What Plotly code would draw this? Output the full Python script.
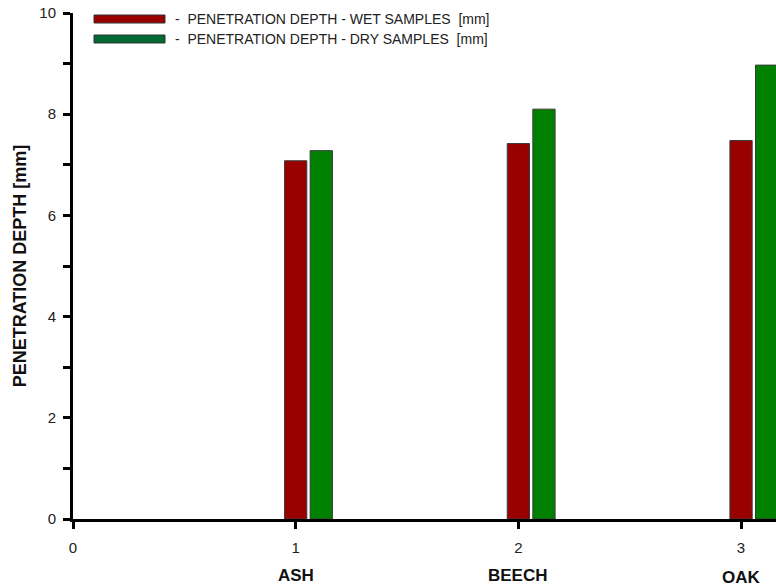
import plotly.graph_objects as go

species = ["ASH", "BEECH", "OAK"]
positions = [1, 2, 3]
wet_depth = [7.08, 7.42, 7.48]
dry_depth = [7.28, 8.10, 8.97]
wet_label = "-  PENETRATION DEPTH - WET SAMPLES  [mm]"
dry_label = "-  PENETRATION DEPTH - DRY SAMPLES  [mm]"

WET = "#990000"
DRY = "#008000"
FONT = "Liberation Sans, Arial, sans-serif"

W, H = 776, 588
L, T, B = 73, 13, 69
PW, PH = W - L, H - T - B


def px_x(px):
    return (px - L) / PW


def px_y(py):
    return 1 - (py - T) / PH


fig = go.Figure()
fig.add_trace(go.Bar(x=positions, y=wet_depth, width=0.1, offset=-0.05,
                     marker=dict(color=WET, line=dict(color="#3a3a3a", width=1)),
                     name=wet_label, showlegend=False))
fig.add_trace(go.Bar(x=positions, y=dry_depth, width=0.1, offset=0.065,
                     marker=dict(color=DRY, line=dict(color="#3a3a3a", width=1)),
                     name=dry_label, showlegend=False))

# legend drawn manually as long colour swatches
for i, (lab, col) in enumerate([(wet_label, WET), (dry_label, "#006a33")]):
    y0 = 15 + i * 20
    fig.add_shape(type="rect", xref="paper", yref="paper",
                  x0=px_x(94), x1=px_x(165),
                  y0=px_y(y0 + 8), y1=px_y(y0),
                  fillcolor=col, line=dict(color="#333333", width=1))
    fig.add_annotation(xref="paper", yref="paper",
                       x=px_x(173), y=px_y(y0 + 4),
                       text=lab, showarrow=False, xanchor="left", yanchor="middle",
                       font=dict(family=FONT, size=14, color="#222222"))

# species labels under the numeric ticks
shifts = [0, 0, -2]
for p, s, sh in zip(positions, species, shifts):
    fig.add_annotation(x=p, xref="x", y=0, yref="paper", yshift=-56 + sh,
                       text="<b>%s</b>" % s, showarrow=False,
                       xanchor="center", yanchor="middle",
                       font=dict(family=FONT, size=17, color="#111111"))

fig.update_layout(
    width=W, height=H,
    margin=dict(l=L, r=0, t=T, b=B, autoexpand=False),
    plot_bgcolor="white", paper_bgcolor="white",
    barmode="overlay",
    font=dict(family=FONT, size=15, color="#222222"),
    xaxis=dict(range=[0, 3.157], tickvals=[0, 1, 2, 3], showgrid=False,
               zeroline=False, showline=True, linecolor="black", linewidth=3,
               ticks="outside", ticklen=7, tickwidth=3, tickcolor="black",
               ticklabelstandoff=6,
               tickfont=dict(family=FONT, size=15, color="#222222")),
    yaxis=dict(range=[0, 10], tickvals=[0, 2, 4, 6, 8, 10], showgrid=False,
               zeroline=False, showline=True, linecolor="black", linewidth=3,
               ticks="outside", ticklen=7, tickwidth=3, tickcolor="black",
               ticklabelstandoff=4,
               minor=dict(tickvals=[1, 3, 5, 7, 9], ticks="outside", ticklen=7,
                          tickwidth=3, tickcolor="black"),
               tickfont=dict(family=FONT, size=15, color="#222222"),
               title=dict(text="<b>PENETRATION DEPTH [mm]</b>", standoff=9,
                          font=dict(family=FONT, size=18, color="#111111"))),
)

# remove the default page margin so the figure fills the window exactly
fig.write_html("out.html", config={"displayModeBar": False},
               post_script="document.body.style.margin='0';")
